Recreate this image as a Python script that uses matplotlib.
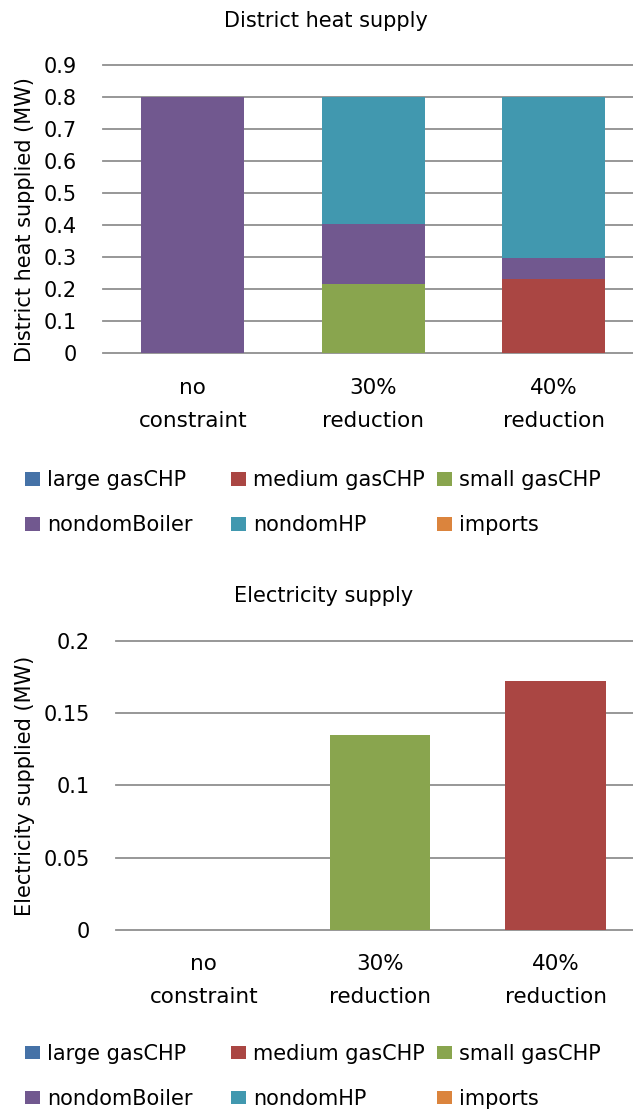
import numpy as np
import matplotlib
matplotlib.use("Agg")
import matplotlib.pyplot as plt
from matplotlib.ticker import FuncFormatter

# %% Data (MW)

scenarios = ["no\nconstraint", "30%\nreduction", "40%\nreduction"]
technologies = ["large gasCHP", "medium gasCHP", "small gasCHP",
                "nondomBoiler", "nondomHP", "imports"]
colors = ["#4572A7", "#AA4643", "#89A54E", "#71588F", "#4198AF", "#DB843D"]

# district heat supplied
heat_large_gasCHP = [0, 0, 0]
heat_medium_gasCHP = [0, 0, 0.231]
heat_small_gasCHP = [0, 0.217, 0]
heat_nondomBoiler = [0.8, 0.188, 0.066]
heat_nondomHP = [0, 0.395, 0.503]
heat_imports = [0, 0, 0]

# electricity supplied
elec_large_gasCHP = [0, 0, 0]
elec_medium_gasCHP = [0, 0, 0.172]
elec_small_gasCHP = [0, 0.135, 0]
elec_nondomBoiler = [0, 0, 0]
elec_nondomHP = [0, 0, 0]
elec_imports = [0, 0, 0]

heat_ticks = [0, 0.1, 0.2, 0.3, 0.4, 0.5, 0.6, 0.7, 0.8, 0.9]
elec_ticks = [0, 0.05, 0.1, 0.15, 0.2]

plt.rcParams["font.family"] = "DejaVu Sans"
plt.rcParams["text.color"] = "black"

fig = plt.figure(figsize=(6.33, 11.13), dpi=100)


def stacked_bars(ax, series):
    x = np.arange(len(scenarios))
    bottom = np.zeros(len(scenarios))
    handles = []
    for values, name, color in zip(series, technologies, colors):
        h = ax.bar(x, values, width=0.57, bottom=bottom, color=color,
                   label=name, linewidth=0)
        bottom += np.array(values)
        handles.append(h)
    return handles


def style_axes(ax, ticks):
    ax.set_xlim(-0.5, 2.5)
    ax.set_ylim(ticks[0], ticks[-1])
    ax.set_yticks(ticks)
    ax.yaxis.set_major_formatter(FuncFormatter(lambda v, pos: f"{v:g}"))
    ax.set_xticks(np.arange(len(scenarios)))
    ax.set_xticklabels(scenarios, fontsize=15.5, linespacing=1.82)
    ax.tick_params(axis="y", length=0, pad=18.4, labelsize=15)
    ax.tick_params(axis="x", length=0, pad=17.5)
    for s in ax.spines.values():
        s.set_visible(False)
    ax.grid(axis="y", color="#8f8f8f", linewidth=1.3)
    ax.set_axisbelow(True)
    for line in ax.get_ygridlines():
        line.set_clip_on(False)


def add_legend(handles, y_center):
    # one legend per column so the columns line up like in Excel
    for col, x0 in enumerate([0.040, 0.365, 0.690]):
        idx = [col, col + 3]
        fig.legend([handles[i] for i in idx], [technologies[i] for i in idx],
                   loc="center left", bbox_to_anchor=(x0, y_center),
                   frameon=False, fontsize=15, borderpad=0, borderaxespad=0,
                   handlelength=0.72, handleheight=0.6, handletextpad=0.34,
                   labelspacing=1.2)


# %% District heat supply
ax1 = fig.add_axes([0.162, 0.6826, 0.8555, 0.2590])
h1 = stacked_bars(ax1, [heat_large_gasCHP, heat_medium_gasCHP,
                        heat_small_gasCHP, heat_nondomBoiler,
                        heat_nondomHP, heat_imports])
style_axes(ax1, heat_ticks)
fig.text(0.515, 0.981, "District heat supply", ha="center", va="center",
         fontsize=15)
fig.text(0.0395, 0.8023, "District heat supplied (MW)", rotation=90,
         ha="center", va="center", fontsize=15)
add_legend(h1, 0.5482)

# %% Electricity supply
ax2 = fig.add_axes([0.1828, 0.1647, 0.834, 0.2594])
h2 = stacked_bars(ax2, [elec_large_gasCHP, elec_medium_gasCHP,
                        elec_small_gasCHP, elec_nondomBoiler,
                        elec_nondomHP, elec_imports])
style_axes(ax2, elec_ticks)
fig.text(0.512, 0.4645, "Electricity supply", ha="center", va="center",
         fontsize=15)
fig.text(0.0395, 0.2938, "Electricity supplied (MW)", rotation=90,
         ha="center", va="center", fontsize=15)
add_legend(h2, 0.0326)

fig.savefig("out.png", dpi=100)
